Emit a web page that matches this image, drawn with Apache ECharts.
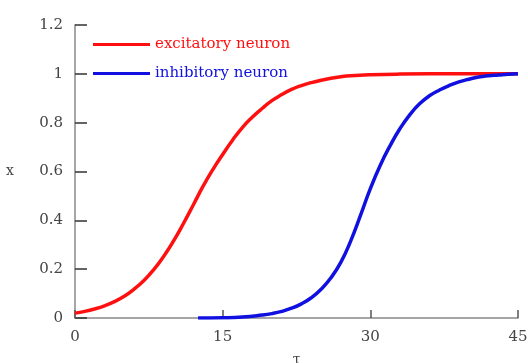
<!DOCTYPE html>
<html><head><meta charset="utf-8">
<script src="https://cdn.jsdelivr.net/npm/echarts@6/dist/echarts.min.js"></script>
<style>html,body{margin:0;padding:0;background:#fff}#c{width:528px;height:363px}</style>
</head><body><div id="c"></div>
<script>
var excX = [0,1,2,3,4,5,6,7,8,9,10,11,12,13,14,15,16,17,18,19,20,21,22,23,24,25,26,27,28,30,33,36,40,45];
var excY = [0.02,0.027,0.037,0.05,0.067,0.089,0.118,0.154,0.198,0.252,0.315,0.386,0.462,0.539,0.608,0.67,0.728,0.78,0.822,0.858,0.89,0.915,0.936,0.952,0.964,0.974,0.982,0.988,0.992,0.996,0.999,1.0,1.0,1.0];
var inhX = [12.5,15,17,19,20,21,22,23,24,25,26,27,28,29,30,31,32,33,34,35,36,37,38,39,40,41,42,43,44,45];
var inhY = [0,0.001,0.004,0.012,0.018,0.027,0.04,0.058,0.083,0.118,0.165,0.228,0.315,0.42,0.53,0.625,0.705,0.775,0.832,0.877,0.91,0.933,0.952,0.967,0.978,0.987,0.992,0.995,0.998,1.0];
var seriesNames = ['excitatory neuron','inhibitory neuron'];
var xTicks = [0,15,30,45];
var yTicks = [0,0.2,0.4,0.6,0.8,1,1.2];
function pairs(xs, ys){ return xs.map(function(x,i){return [x, ys[i]];}); }
var font = 'DejaVu Serif';
var chart = echarts.init(document.getElementById('c'));
chart.setOption({
  animation:false,
  grid:{left:75, right:10, top:25, bottom:45, containLabel:false, outerBoundsMode:'none'},
  legend:{
    orient:'vertical', left:88, top:32, itemWidth:57, itemHeight:3, itemGap:14, icon:'rect',
    textStyle:{fontFamily:font, fontSize:15},
    data:[{name:seriesNames[0], textStyle:{color:'#ff1010'}},{name:seriesNames[1], textStyle:{color:'#1010e0'}}]
  },
  xAxis:{type:'value', min:xTicks[0], max:xTicks[xTicks.length-1], interval:15,
    name:'τ', nameLocation:'middle', nameGap:35,
    nameTextStyle:{fontFamily:font, fontSize:14, color:'#444'},
    axisLine:{lineStyle:{color:'#888', width:1.5}},
    axisTick:{inside:true, length:8, lineStyle:{color:'#555', width:1.5}},
    axisLabel:{fontFamily:font, fontSize:15, color:'#444', margin:12},
    splitLine:{show:false}},
  yAxis:{type:'value', min:yTicks[0], max:yTicks[yTicks.length-1], interval:0.2,
    name:'x', nameLocation:'middle', nameGap:61, nameRotate:0,
    nameTextStyle:{fontFamily:font, fontSize:14, color:'#444'},
    axisLine:{lineStyle:{color:'#888', width:1.5}},
    axisTick:{inside:true, length:12, lineStyle:{color:'#333', width:1.5}},
    axisLabel:{fontFamily:font, fontSize:15, color:'#444', margin:12},
    splitLine:{show:false}},
  series:[
    {name:seriesNames[0], type:'line', smooth:true, showSymbol:false, data:pairs(excX,excY),
     color:'#ff1010', lineStyle:{width:3.5, color:'#ff1010'}},
    {name:seriesNames[1], type:'line', smooth:true, showSymbol:false, data:pairs(inhX,inhY),
     color:'#1010e0', lineStyle:{width:3.5, color:'#1010e0'}}
  ]
});
</script></body></html>
